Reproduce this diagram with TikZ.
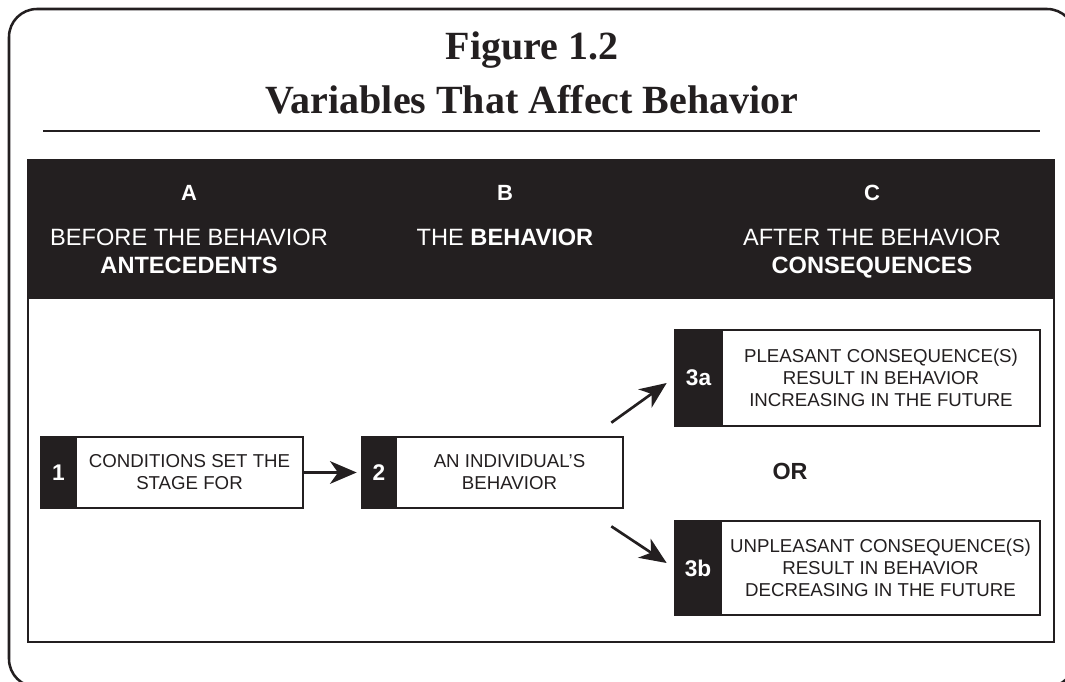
\documentclass[tikz,border=0pt]{standalone}
\usepackage{fontspec}
\setmainfont{Liberation Serif}
\setsansfont{Liberation Sans}
\usetikzlibrary{arrows.meta}
\definecolor{ink}{HTML}{231F20}
\tikzset{
  frame/.style={draw=ink, line width=1.9pt, rounded corners=21pt},
  rule/.style={draw=ink, line width=1.9pt},
  inner/.style={draw=ink, line width=1.7pt},
  band/.style={fill=ink},
  titlefont/.style={font=\fontsize{30}{34}\selectfont\bfseries, text=ink},
  hdletter/.style={font=\sffamily\bfseries\fontsize{16.5}{20}\selectfont, text=white, anchor=base},
  hdtext/.style={font=\sffamily\fontsize{17.7}{21}\selectfont, text=white, anchor=base},
  numbox/.style={draw=ink, line width=2pt, fill=ink, text=white, inner sep=0pt,
     font=\sffamily\bfseries\fontsize{17}{20}\selectfont, minimum height=53.25pt},
  txtbox/.style={draw=ink, line width=2pt, fill=white, text=ink, inner sep=0pt, align=center,
     font=\sffamily\fontsize{14}{16.5}\selectfont, minimum height=53.25pt},
  arr/.style={draw=ink, line width=2pt, -{Stealth[length=20pt,width=17pt,inset=6pt]}},
  orlabel/.style={font=\sffamily\bfseries\fontsize{17.5}{20}\selectfont, text=ink, anchor=base}
}
\begin{document}
\begin{tikzpicture}[x=0.75pt,y=-0.75pt]
\useasboundingbox (0,0) rectangle (1065,682);
\clip (0,0) rectangle (1065,682);
\fill[white] (0,0) rectangle (1065,682);
\draw[frame] (9,9) rectangle (1075,687);

\node[titlefont, anchor=base] (fig) at (532,59) {Figure 1.2};
\node[titlefont, anchor=base] (title) at (532,113) {Variables That Affect Behavior};
\draw[rule] (43,131) -- (1040,131);

\fill[band] (28,160) rectangle (1054,299);
\draw[inner] (28,160) rectangle (1054,642);

\node[hdletter] (hA) at (189,200) {A};
\node[hdletter] (hB) at (505,200) {B};
\node[hdletter] (hC) at (872,200) {C};
\node[hdtext] (hA1) at (189,245) {BEFORE THE BEHAVIOR};
\node[hdtext] (hA2) at (189,273) {\bfseries ANTECEDENTS};
\node[hdtext] (hB1) at (505,245) {THE \textbf{BEHAVIOR}};
\node[hdtext] (hC1) at (872,245) {AFTER THE BEHAVIOR};
\node[hdtext] (hC2) at (872,273) {\bfseries CONSEQUENCES};

% box 1
\node[numbox, minimum width=26.25pt] (n1) at (58.5,472.5) {1};
\node[txtbox, minimum width=170.25pt] (t1) at (189.5,472.5) {CONDITIONS SET THE\\STAGE FOR};
% box 2
\node[numbox, minimum width=25.5pt] (n2) at (379,472.5) {2};
\node[txtbox, minimum width=170.25pt] (t2) at (509.5,472.5) {AN INDIVIDUAL’S\\BEHAVIOR};
% box 3a
\node[numbox, minimum width=35.25pt, minimum height=72pt] (n3a) at (698.5,378) {3a};
\node[txtbox, minimum width=238.5pt, minimum height=72pt] (t3a) at (881,378) {PLEASANT CONSEQUENCE(S)\\RESULT IN BEHAVIOR\\INCREASING IN THE FUTURE};
% box 3b
\node[numbox, minimum width=34.5pt, minimum height=70.5pt] (n3b) at (698,568) {3b};
\node[txtbox, minimum width=239.25pt, minimum height=70.5pt] (t3b) at (880.5,568) {UNPLEASANT CONSEQUENCE(S)\\RESULT IN BEHAVIOR\\DECREASING IN THE FUTURE};

\node[orlabel] (or) at (790,479) {OR};

\draw[arr, shorten >=3pt] (t1.east) -- (n2.west);
\draw[arr] ([shift={(-13,-13)}]t2.north east) -- ([shift={(-7,5)}]n3a.west);
\draw[arr] ([shift={(-13,17)}]t2.south east) -- ([shift={(-7,-5)}]n3b.west);
\end{tikzpicture}
\end{document}
